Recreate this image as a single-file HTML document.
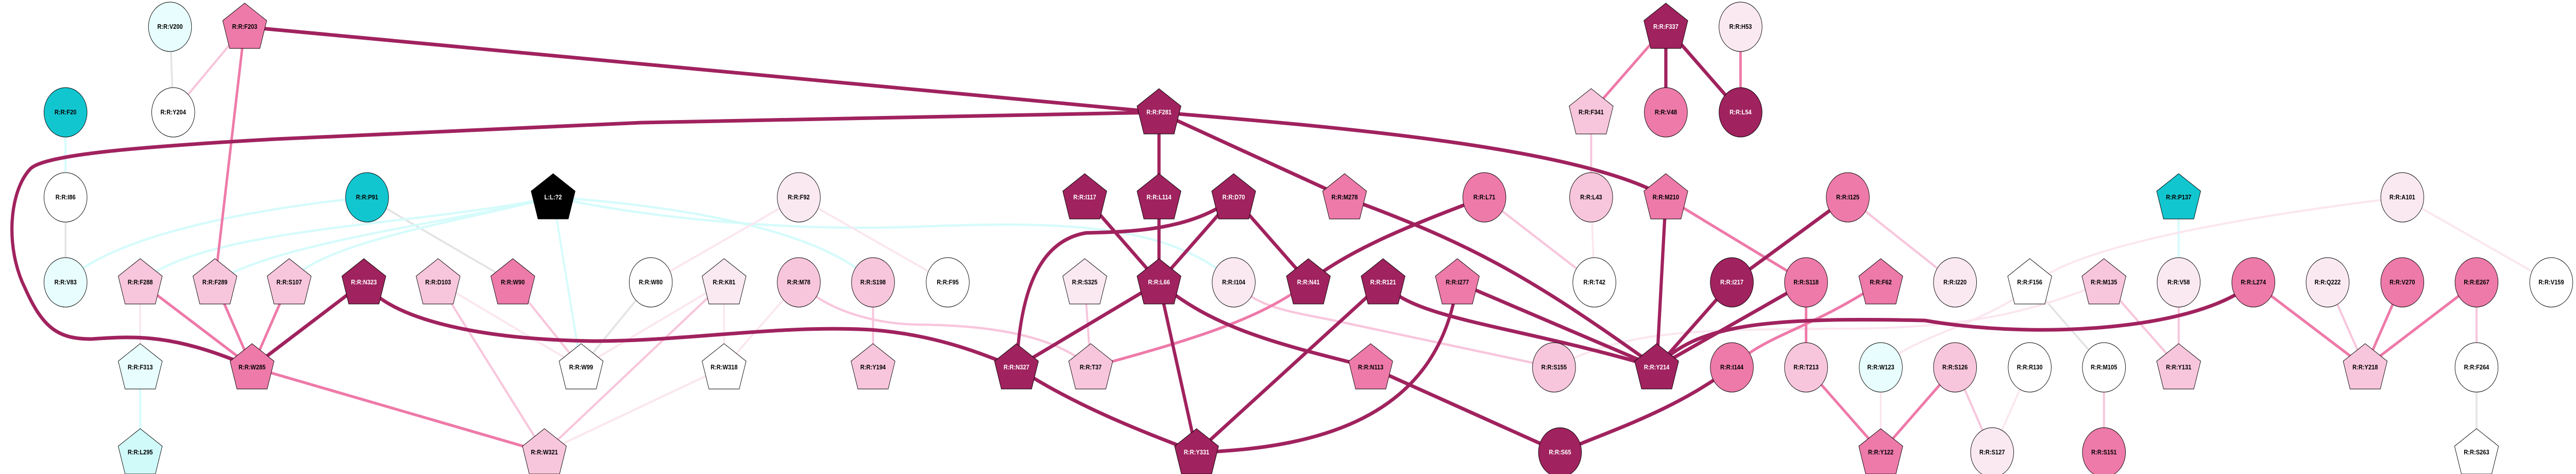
<!DOCTYPE html>
<html><head><meta charset="utf-8"><style>
html,body{margin:0;padding:0;background:#fff;overflow:hidden;}
svg{display:block;width:100vw;height:100vh;}
text{font-family:"Liberation Sans",sans-serif;font-weight:bold;font-size:12.5px;text-anchor:middle;dominant-baseline:central;}
.d{stroke:#a0225e;stroke-width:7;fill:none}
.m{stroke:#ee7aa9;stroke-width:5.5;fill:none}
.l{stroke:#f8c6dc;stroke-width:4.5;fill:none}
.v{stroke:#fbe6ef;stroke-width:4;fill:none}
.g{stroke:#e4e4e4;stroke-width:4;fill:none}
.c{stroke:#d6fbfb;stroke-width:4.5;fill:none}
.n{stroke:#000;stroke-width:1}
</style></head><body>
<svg viewBox="0 0 5621 920" preserveAspectRatio="none" xmlns="http://www.w3.org/2000/svg">
<defs>
<polygon id="p" points="0,-46 48,-12 33,42 -33,42 -48,-12"/>
</defs>
<g>
<path class="g" d="M371,52 L378,218"/>
<path class="g" d="M143,383 L143,548"/>
<path class="g" d="M801,383 L1119,548"/>
<path class="g" d="M1420,548 L1268,713"/>
<path class="g" d="M4429,548 L4591,713"/>
<path class="g" d="M5404,713 L5404,878"/>
<path class="c" d="M143,218 L143,383"/>
<path class="c" d="M801,383 C600,400 250,450 143,548"/>
<path class="c" d="M1207,383 C900,440 450,440 306,548"/>
<path class="c" d="M1207,383 C1000,430 600,470 469,548"/>
<path class="c" d="M1207,383 C1000,430 700,470 631,548"/>
<path class="c" d="M1207,383 L1268,713"/>
<path class="c" d="M1207,383 C1500,400 1800,450 1905,548"/>
<path class="c" d="M1207,383 C1400,420 1700,450 2000,440 C2300,430 2550,430 2692,548"/>
<path class="c" d="M306,713 L306,878"/>
<path class="c" d="M4754,383 L4754,548"/>
<path class="v" d="M306,548 L306,713"/>
<path class="v" d="M956,548 L1268,713"/>
<path class="v" d="M1268,713 L1580,548"/>
<path class="v" d="M1188,878 L1580,713"/>
<path class="v" d="M1743,548 L1580,713"/>
<path class="v" d="M1580,548 L1580,713"/>
<path class="v" d="M1420,548 L1743,383"/>
<path class="v" d="M1743,383 L2068,548"/>
<path class="v" d="M3472,383 L3479,548"/>
<path class="v" d="M4104,713 L4104,878"/>
<path class="v" d="M4429,713 L4347,878"/>
<path class="v" d="M5242,383 L5567,548"/>
<path class="v" d="M3391,713 C3550,640 3700,640 4000,638 C4300,640 4450,600 4591,548"/>
<path class="v" d="M4104,713 C4180,650 4300,640 4430,560 C4500,480 4900,420 5242,383"/>
<path class="l" d="M534,52 L378,218"/>
<path class="l" d="M956,548 L1188,878"/>
<path class="l" d="M1119,548 L1268,713"/>
<path class="l" d="M1188,878 L1580,548"/>
<path class="l" d="M1743,548 C1800,600 1900,628 2000,630 C2159,631 2300,650 2380,713"/>
<path class="l" d="M1905,548 L1905,713"/>
<path class="l" d="M2367,548 L2380,713"/>
<path class="l" d="M2692,548 C2740,590 2780,600 2900,620 L3391,713"/>
<path class="l" d="M3239,383 L3479,548"/>
<path class="l" d="M3472,218 L3472,383"/>
<path class="l" d="M4032,383 L4266,548"/>
<path class="l" d="M4266,713 L4347,878"/>
<path class="l" d="M4591,713 L4591,878"/>
<path class="l" d="M4591,548 L4754,713"/>
<path class="l" d="M4754,548 L4754,713"/>
<path class="l" d="M5079,548 L5161,713"/>
<path class="l" d="M5404,548 L5404,713"/>
<path class="m" d="M534,52 L469,548"/>
<path class="m" d="M469,548 L550,713"/>
<path class="m" d="M306,548 L550,713"/>
<path class="m" d="M631,548 L550,713"/>
<path class="m" d="M550,713 L1188,878"/>
<path class="m" d="M2380,713 C2600,660 2750,620 2855,548"/>
<path class="m" d="M3635,383 L3941,548"/>
<path class="m" d="M3798,52 L3798,218"/>
<path class="m" d="M3635,52 L3472,218"/>
<path class="m" d="M3941,548 L3941,713"/>
<path class="m" d="M4104,548 C3950,640 3850,650 3779,713"/>
<path class="m" d="M3941,713 L4104,878"/>
<path class="m" d="M4104,878 L4266,713"/>
<path class="m" d="M4917,548 L5161,713"/>
<path class="m" d="M5242,548 L5161,713"/>
<path class="m" d="M5404,548 L5161,713"/>
<path class="d" d="M534,52 L2529,218"/>
<path class="d" d="M2529,218 C2900,245 3450,285 3635,383"/>
<path class="d" d="M2529,218 L1400,238 L600,270 C300,285 100,300 67,327 C20,370 10,480 55,560 C95,640 130,658 200,658 C300,652 380,648 550,713"/>
<path class="d" d="M2529,218 L2529,383"/>
<path class="d" d="M2529,218 L2934,383"/>
<path class="d" d="M2367,383 L2529,548"/>
<path class="d" d="M2529,383 L2529,548"/>
<path class="d" d="M2692,383 L2529,548"/>
<path class="d" d="M2692,383 C2600,450 2450,450 2370,452 C2250,470 2225,600 2218,713"/>
<path class="d" d="M2692,383 L2855,548"/>
<path class="d" d="M2529,548 L2218,713"/>
<path class="d" d="M2529,548 L2611,878"/>
<path class="d" d="M2529,548 C2650,640 2800,670 2991,713"/>
<path class="d" d="M2218,713 C2350,790 2500,840 2611,878"/>
<path class="d" d="M794,548 L550,713"/>
<path class="d" d="M794,548 C850,620 1050,660 1300,662 C1500,662 1700,630 1900,640 C2050,650 2150,690 2218,713"/>
<path class="d" d="M2611,878 L3018,548"/>
<path class="d" d="M2611,878 C2900,870 3140,800 3180,548"/>
<path class="d" d="M3018,548 C3080,620 3300,630 3615,713"/>
<path class="d" d="M3180,548 L3615,713"/>
<path class="d" d="M2934,383 C3200,470 3330,530 3615,713"/>
<path class="d" d="M3239,383 C3100,430 2950,480 2855,548"/>
<path class="d" d="M3635,52 L3635,218"/>
<path class="d" d="M3635,52 L3798,218"/>
<path class="d" d="M3635,383 L3615,713"/>
<path class="d" d="M4032,383 L3779,548"/>
<path class="d" d="M3779,548 L3615,713"/>
<path class="d" d="M3941,548 L3615,713"/>
<path class="d" d="M2991,713 L3404,878"/>
<path class="d" d="M3779,713 C3650,800 3500,840 3404,878"/>
<path class="d" d="M3615,713 C3700,630 3850,615 4200,622 C4450,660 4800,640 4917,548"/>
</g>
<g class="n">
<ellipse cx="371" cy="52" rx="47" ry="48" fill="#e8fefe"/>
<ellipse cx="143" cy="218" rx="47" ry="48" fill="#12c6d0"/>
<ellipse cx="378" cy="218" rx="47" ry="48" fill="#fff"/>
<ellipse cx="143" cy="383" rx="47" ry="48" fill="#fff"/>
<ellipse cx="801" cy="383" rx="47" ry="48" fill="#12c6d0"/>
<ellipse cx="143" cy="548" rx="47" ry="48" fill="#e8fefe"/>
<ellipse cx="1420" cy="548" rx="47" ry="48" fill="#fff"/>
<ellipse cx="1743" cy="548" rx="47" ry="48" fill="#f8c6dc"/>
<ellipse cx="1905" cy="548" rx="47" ry="48" fill="#f8c6dc"/>
<ellipse cx="2068" cy="548" rx="47" ry="48" fill="#fff"/>
<ellipse cx="2692" cy="548" rx="47" ry="48" fill="#fbe9f2"/>
<ellipse cx="1743" cy="383" rx="47" ry="48" fill="#fbe9f2"/>
<ellipse cx="3798" cy="52" rx="47" ry="48" fill="#fbe9f2"/>
<ellipse cx="3635" cy="218" rx="47" ry="48" fill="#ee7aa9"/>
<ellipse cx="3798" cy="218" rx="47" ry="48" fill="#a0225e"/>
<ellipse cx="3239" cy="383" rx="47" ry="48" fill="#ee7aa9"/>
<ellipse cx="3472" cy="383" rx="47" ry="48" fill="#f8c6dc"/>
<ellipse cx="4032" cy="383" rx="47" ry="48" fill="#ee7aa9"/>
<ellipse cx="3479" cy="548" rx="47" ry="48" fill="#fff"/>
<ellipse cx="3779" cy="548" rx="47" ry="48" fill="#a0225e"/>
<ellipse cx="3941" cy="548" rx="47" ry="48" fill="#ee7aa9"/>
<ellipse cx="3391" cy="713" rx="47" ry="48" fill="#f8c6dc"/>
<ellipse cx="3779" cy="713" rx="47" ry="48" fill="#ee7aa9"/>
<ellipse cx="3941" cy="713" rx="47" ry="48" fill="#f8c6dc"/>
<ellipse cx="4104" cy="713" rx="47" ry="48" fill="#e8fefe"/>
<ellipse cx="3404" cy="878" rx="47" ry="48" fill="#a0225e"/>
<ellipse cx="5242" cy="383" rx="47" ry="48" fill="#fbe9f2"/>
<ellipse cx="4266" cy="548" rx="47" ry="48" fill="#fbe9f2"/>
<ellipse cx="4754" cy="548" rx="47" ry="48" fill="#fbe9f2"/>
<ellipse cx="4917" cy="548" rx="47" ry="48" fill="#ee7aa9"/>
<ellipse cx="5079" cy="548" rx="47" ry="48" fill="#fbe9f2"/>
<ellipse cx="5242" cy="548" rx="47" ry="48" fill="#ee7aa9"/>
<ellipse cx="5404" cy="548" rx="47" ry="48" fill="#ee7aa9"/>
<ellipse cx="5567" cy="548" rx="47" ry="48" fill="#fff"/>
<ellipse cx="4266" cy="713" rx="47" ry="48" fill="#f8c6dc"/>
<ellipse cx="4429" cy="713" rx="47" ry="48" fill="#fff"/>
<ellipse cx="4591" cy="713" rx="47" ry="48" fill="#fff"/>
<ellipse cx="5404" cy="713" rx="47" ry="48" fill="#fff"/>
<ellipse cx="4347" cy="878" rx="47" ry="48" fill="#fbe9f2"/>
<ellipse cx="4591" cy="878" rx="47" ry="48" fill="#ee7aa9"/>
<use href="#p" x="534" y="52" fill="#ee7aa9"/>
<use href="#p" x="1207" y="383" fill="#000"/>
<use href="#p" x="306" y="548" fill="#f8c6dc"/>
<use href="#p" x="469" y="548" fill="#f8c6dc"/>
<use href="#p" x="631" y="548" fill="#f8c6dc"/>
<use href="#p" x="794" y="548" fill="#a0225e"/>
<use href="#p" x="956" y="548" fill="#f8c6dc"/>
<use href="#p" x="1119" y="548" fill="#ee7aa9"/>
<use href="#p" x="1580" y="548" fill="#fbe9f2"/>
<use href="#p" x="2367" y="548" fill="#fbe9f2"/>
<use href="#p" x="2529" y="548" fill="#a0225e"/>
<use href="#p" x="306" y="713" fill="#e8fefe"/>
<use href="#p" x="550" y="713" fill="#ee7aa9"/>
<use href="#p" x="1268" y="713" fill="#fff"/>
<use href="#p" x="1580" y="713" fill="#fff"/>
<use href="#p" x="1905" y="713" fill="#f8c6dc"/>
<use href="#p" x="2218" y="713" fill="#a0225e"/>
<use href="#p" x="2380" y="713" fill="#f8c6dc"/>
<use href="#p" x="306" y="878" fill="#d0fafa"/>
<use href="#p" x="1188" y="878" fill="#f8c6dc"/>
<use href="#p" x="2611" y="878" fill="#a0225e"/>
<use href="#p" x="2529" y="218" fill="#a0225e"/>
<use href="#p" x="2367" y="383" fill="#a0225e"/>
<use href="#p" x="2529" y="383" fill="#a0225e"/>
<use href="#p" x="2692" y="383" fill="#a0225e"/>
<use href="#p" x="3635" y="52" fill="#a0225e"/>
<use href="#p" x="3472" y="218" fill="#f8c6dc"/>
<use href="#p" x="2934" y="383" fill="#ee7aa9"/>
<use href="#p" x="3635" y="383" fill="#ee7aa9"/>
<use href="#p" x="2855" y="548" fill="#a0225e"/>
<use href="#p" x="3018" y="548" fill="#a0225e"/>
<use href="#p" x="3180" y="548" fill="#ee7aa9"/>
<use href="#p" x="4104" y="548" fill="#ee7aa9"/>
<use href="#p" x="2991" y="713" fill="#ee7aa9"/>
<use href="#p" x="3615" y="713" fill="#a0225e"/>
<use href="#p" x="4104" y="878" fill="#ee7aa9"/>
<use href="#p" x="4754" y="383" fill="#12c6d0"/>
<use href="#p" x="4429" y="548" fill="#fff"/>
<use href="#p" x="4591" y="548" fill="#f8c6dc"/>
<use href="#p" x="4754" y="713" fill="#f8c6dc"/>
<use href="#p" x="5161" y="713" fill="#f8c6dc"/>
<use href="#p" x="5404" y="878" fill="#fff"/>
</g>
<g fill="#000">
<text x="371" y="52">R:R:V200</text>
<text x="534" y="52">R:R:F203</text>
<text x="143" y="218">R:R:F20</text>
<text x="378" y="218">R:R:Y204</text>
<text x="143" y="383">R:R:I86</text>
<text x="801" y="383">R:R:P91</text>
<text x="143" y="548">R:R:V83</text>
<text x="306" y="548">R:R:F288</text>
<text x="469" y="548">R:R:F289</text>
<text x="631" y="548">R:R:S107</text>
<text x="956" y="548">R:R:D103</text>
<text x="1119" y="548">R:R:W90</text>
<text x="1420" y="548">R:R:W80</text>
<text x="1580" y="548">R:R:K81</text>
<text x="1743" y="548">R:R:M78</text>
<text x="1905" y="548">R:R:S198</text>
<text x="2068" y="548">R:R:F95</text>
<text x="2367" y="548">R:R:S325</text>
<text x="2692" y="548">R:R:I104</text>
<text x="1743" y="383">R:R:F92</text>
<text x="306" y="713">R:R:F313</text>
<text x="550" y="713">R:R:W285</text>
<text x="1268" y="713">R:R:W99</text>
<text x="1580" y="713">R:R:W318</text>
<text x="1905" y="713">R:R:Y194</text>
<text x="2380" y="713">R:R:T37</text>
<text x="306" y="878">R:R:L295</text>
<text x="1188" y="878">R:R:W321</text>
<text x="3798" y="52">R:R:H53</text>
<text x="3472" y="218">R:R:F341</text>
<text x="3635" y="218">R:R:V48</text>
<text x="2934" y="383">R:R:M278</text>
<text x="3239" y="383">R:R:L71</text>
<text x="3472" y="383">R:R:L43</text>
<text x="3635" y="383">R:R:M210</text>
<text x="4032" y="383">R:R:I125</text>
<text x="3180" y="548">R:R:I277</text>
<text x="3479" y="548">R:R:T42</text>
<text x="3941" y="548">R:R:S118</text>
<text x="4104" y="548">R:R:F62</text>
<text x="2991" y="713">R:R:N113</text>
<text x="3391" y="713">R:R:S155</text>
<text x="3779" y="713">R:R:I144</text>
<text x="3941" y="713">R:R:T213</text>
<text x="4104" y="713">R:R:W123</text>
<text x="4104" y="878">R:R:Y122</text>
<text x="4754" y="383">R:R:P137</text>
<text x="5242" y="383">R:R:A101</text>
<text x="4266" y="548">R:R:I220</text>
<text x="4429" y="548">R:R:F156</text>
<text x="4591" y="548">R:R:M135</text>
<text x="4754" y="548">R:R:V58</text>
<text x="4917" y="548">R:R:L274</text>
<text x="5079" y="548">R:R:Q222</text>
<text x="5242" y="548">R:R:V270</text>
<text x="5404" y="548">R:R:E267</text>
<text x="5567" y="548">R:R:V159</text>
<text x="4266" y="713">R:R:S126</text>
<text x="4429" y="713">R:R:R130</text>
<text x="4591" y="713">R:R:M105</text>
<text x="4754" y="713">R:R:Y131</text>
<text x="5161" y="713">R:R:Y218</text>
<text x="5404" y="713">R:R:F264</text>
<text x="4347" y="878">R:R:S127</text>
<text x="4591" y="878">R:R:S151</text>
<text x="5404" y="878">R:R:S263</text>
</g>
<g fill="#fff">
<text x="1207" y="383">L:L:?2</text>
<text x="794" y="548">R:R:N323</text>
<text x="2529" y="548">R:R:L66</text>
<text x="2218" y="713">R:R:N327</text>
<text x="2611" y="878">R:R:Y331</text>
<text x="2529" y="218">R:R:F281</text>
<text x="2367" y="383">R:R:I117</text>
<text x="2529" y="383">R:R:L114</text>
<text x="2692" y="383">R:R:D70</text>
<text x="3635" y="52">R:R:F337</text>
<text x="3798" y="218">R:R:L54</text>
<text x="2855" y="548">R:R:N41</text>
<text x="3018" y="548">R:R:R121</text>
<text x="3779" y="548">R:R:I217</text>
<text x="3615" y="713">R:R:Y214</text>
<text x="3404" y="878">R:R:S65</text>
</g>
</svg>
</body></html>
